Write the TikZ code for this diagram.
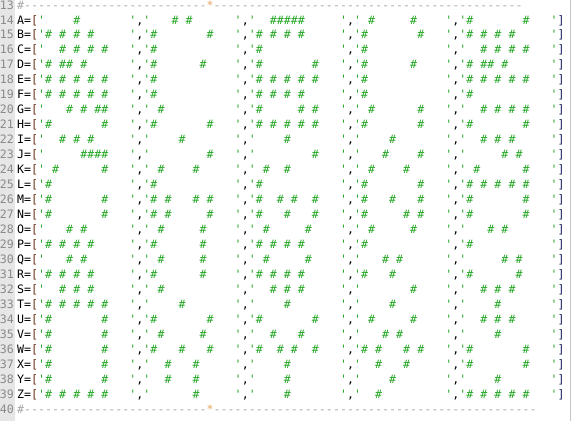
\documentclass[tikz,border=0pt]{standalone}
\usepackage{fontspec}
\setmonofont{DejaVu Sans Mono}
\usepackage{xcolor}
\usepackage{tikz}
\definecolor{gutter}{HTML}{E6E6E6}
\definecolor{lnumgray}{HTML}{8A8A8A}
\definecolor{strgreen}{HTML}{22A622}
\definecolor{cmtgray}{HTML}{A8A8A8}
\definecolor{staror}{HTML}{E6A462}
\definecolor{lbrown}{HTML}{6A3418}
\definecolor{rnavy}{HTML}{18205E}
\definecolor{edge}{HTML}{C4C4C4}
\newcommand{\hashes}[3]{%
	\foreach \p in {#3}{%
		\node[hash] (h#1-#2-\p) at ({20.6+7.02*(4+15*#2+\p)},\yb) {\#};
	}}
\newcommand{\coderow}[7]{%
	\pgfmathsetmacro{\yb}{24+(#1-14)*14.97}
	\node[lnum] (ln#1) at (14,\yb) {#1};
	\node[code] (let#1) at ({20.6},\yb) {#2};
	\node[code] (eq#1) at ({20.6+7.02},\yb) {=};
	\node[code,text=lbrown] (lb#1) at ({20.6+7.02*2},\yb) {[};
	\foreach \c in {3,16,18,31,33,46,48,61,63,76}{%
		\node[strq] (q#1-\c) at ({20.6+7.02*\c},\yb) {'};
	}
	\foreach \c in {17,32,47,62}{%
		\node[code] (cm#1-\c) at ({20.6+7.02*\c},\yb) {,};
	}
	\hashes{#1}{0}{#3}
	\hashes{#1}{1}{#4}
	\hashes{#1}{2}{#5}
	\hashes{#1}{3}{#6}
	\hashes{#1}{4}{#7}
	\node[code,text=rnavy] (rb#1) at ({20.6+7.02*77},\yb) {]};
}
\newcommand{\rulerow}[2]{%
	\pgfmathsetmacro{\yb}{24+(#1-14)*14.97}
	\node[lnum] (ln#1) at (14,\yb) {#1};
	\node[cmt] (c#1-0) at ({20.6},\yb) {\#};
	\foreach \c in {1,...,26}{%
		\node[cmt] (c#1-\c) at ({20.6+7.02*\c},\yb) {-};
	}
	\node[cmt,text=staror] (c#1-27) at ({20.6+7.02*27},\yb) {*};
	\foreach \c in {28,...,#2}{%
		\node[cmt] (c#1-\c) at ({20.6+7.02*\c},\yb) {-};
	}
}

\begin{document}
\begin{tikzpicture}[x=1pt,y=-1pt,
		code/.style={font=\ttfamily\fontsize{11.6}{14}\selectfont,inner sep=0pt,anchor=base},
		lnum/.style={code,anchor=base east,text=lnumgray},
		strq/.style={code,text=strgreen},
		hash/.style={code,text=strgreen},
		cmt/.style={code,text=cmtgray}]
		\useasboundingbox (0,0) rectangle (577,421);
		\fill[white] (0,0) rectangle (577,421);
		\fill[gutter] (0,0) rectangle (15,421);
		\draw[edge,line width=1pt] (570.7,0)--(570.7,421);
		
		\rulerow{13}{71}
		\coderow{14}{A}{4}{3,5}{2,3,4,5,6}{1,7}{0,8}
		\coderow{15}{B}{0,2,4,6}{0,8}{0,2,4,6}{0,8}{0,2,4,6}
		\coderow{16}{C}{2,4,6,8}{0}{0}{0}{2,4,6,8}
		\coderow{17}{D}{0,2,3,5}{0,7}{0,8}{0,7}{0,2,3,5}
		\coderow{18}{E}{0,2,4,6,8}{0}{0,2,4,6,8}{0}{0,2,4,6,8}
		\coderow{19}{F}{0,2,4,6,8}{0}{0,2,4,6}{0}{0}
		\coderow{20}{G}{3,5,7,8}{1}{0,6,8}{1,8}{2,4,6,8}
		\coderow{21}{H}{0,8}{0,8}{0,2,4,6,8}{0,8}{0,8}
		\coderow{22}{I}{2,4,6}{4}{4}{4}{2,4,6}
		\coderow{23}{J}{5,6,7,8}{8}{8}{3,8}{5,7}
		\coderow{24}{K}{1,8}{1,6}{1,4}{1,6}{1,8}
		\coderow{25}{L}{0}{0}{0}{0,8}{0,2,4,6,8}
		\coderow{26}{M}{0,8}{0,2,6,8}{0,3,5,8}{0,4,8}{0,8}
		\coderow{27}{N}{0,8}{0,2,8}{0,4,8}{0,6,8}{0,8}
		\coderow{28}{O}{3,5}{1,7}{1,7}{1,7}{3,5}
		\coderow{29}{P}{0,2,4,6}{0,7}{0,2,4,6}{0}{0}
		\coderow{30}{Q}{3,5}{1,7}{1,7}{3,5}{5,7}
		\coderow{31}{R}{0,2,4,6}{0,7}{0,2,4,6}{0,4}{0,7}
		\coderow{32}{S}{2,4,6}{1}{2,4,6}{7}{2,4,6}
		\coderow{33}{T}{0,2,4,6,8}{4}{4}{4}{4}
		\coderow{34}{U}{0,8}{0,8}{0,8}{1,7}{2,4,6}
		\coderow{35}{V}{0,8}{1,7}{2,6}{3,5}{4}
		\coderow{36}{W}{0,8}{0,4,8}{0,3,5,8}{0,2,6,8}{0,8}
		\coderow{37}{X}{0,8}{2,6}{4}{2,6}{0,8}
		\coderow{38}{Y}{0,8}{2,6}{4}{4}{4}
		\coderow{39}{Z}{0,2,4,6,8}{6}{4}{2}{0,2,4,6,8}
		\rulerow{40}{73}
	\end{tikzpicture}
\end{document}
